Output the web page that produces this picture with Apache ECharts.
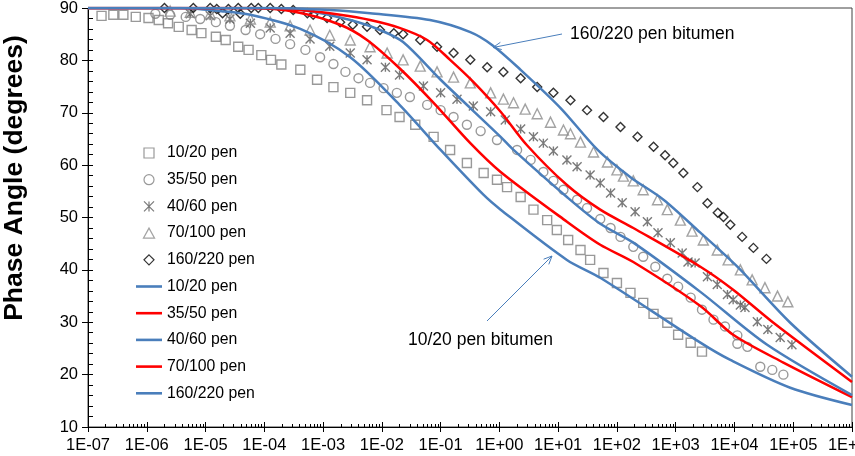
<!DOCTYPE html>
<html>
<head>
<meta charset="utf-8">
<title>Phase angle master curves</title>
<script src="https://cdn.jsdelivr.net/npm/echarts@6.0.0/dist/echarts.min.js"></script>
<style>
  html, body { margin: 0; padding: 0; background: #fff; }
  #chart { width: 855px; height: 456px; }
</style>
</head>
<body>
<div id="chart"></div>
<script>
// reduced frequency (Hz) and phase angle (degrees)

// measured points
var pen1020Freq = [1.7e-7, 2.7e-7, 4.0e-7, 6.5e-7, 1.07e-6, 1.6e-6, 2.3e-6, 3.5e-6, 5.8e-6, 8.5e-6, 1.5e-5, 2.2e-5, 3.6e-5, 5.4e-5, 8.9e-5, 1.3e-4, 1.95e-4, 4.1e-4, 7.9e-4, 1.5e-3, 2.9e-3, 5.6e-3, 1.2e-2, 2.0e-2, 3.7e-2, 7.6e-2, 0.145, 0.28, 0.54, 0.91, 1.35, 2.3, 3.8, 6.5, 9.5, 14.8, 24, 35, 59, 100, 170, 280, 420, 720, 1100, 1800, 2800];
var pen1020Phase = [88.5, 88.7, 88.7, 88.3, 88.1, 87.7, 87.1, 86.4, 85.8, 85.2, 84.5, 83.9, 82.6, 82.0, 81.0, 80.1, 79.2, 78.2, 76.3, 74.9, 73.8, 72.4, 70.5, 69.2, 67.7, 65.4, 62.9, 60.4, 58.5, 57.2, 55.8, 53.9, 51.5, 49.5, 47.6, 45.7, 43.8, 41.9, 39.4, 37.5, 35.6, 33.7, 31.6, 29.9, 27.6, 26.1, 24.4];

var pen3550Freq = [1.4e-6, 2.5e-6, 4.6e-6, 8.1e-6, 1.5e-5, 2.6e-5, 4.8e-5, 8.5e-5, 1.55e-4, 2.75e-4, 5.0e-4, 8.9e-4, 1.5e-3, 2.4e-3, 4.0e-3, 6.3e-3, 1.07e-2, 1.8e-2, 3.0e-2, 5.9e-2, 0.1, 0.166, 0.28, 0.48, 0.91, 2.0, 3.4, 5.6, 8.3, 12.3, 21, 31, 52, 78, 115, 190, 280, 450, 720, 1100, 1800, 2800, 4400, 6900, 11200, 11200, 16600, 27500, 44000, 68000];
var pen3550Phase = [88.9, 88.7, 88.3, 87.9, 87.3, 86.6, 85.8, 85.0, 84.1, 83.1, 82.0, 80.6, 79.3, 77.8, 76.6, 75.7, 74.7, 73.8, 73.0, 71.5, 70.5, 69.2, 67.7, 66.5, 64.8, 62.9, 61.0, 58.7, 57.0, 55.3, 53.4, 51.8, 49.7, 48.0, 46.3, 44.4, 42.5, 40.6, 38.3, 36.8, 34.7, 32.4, 30.5, 29.2, 27.5, 25.9, 25.3, 21.5, 20.9, 20.0];

var pen4060Freq = [5.5e-6, 1.2e-5, 2.6e-5, 5.8e-5, 1.26e-4, 2.75e-4, 6.0e-4, 1.3e-3, 2.9e-3, 5.6e-3, 1.15e-2, 2.0e-2, 5.1e-2, 0.1, 0.19, 0.36, 0.71, 1.26, 2.3, 3.8, 5.6, 8.3, 14.1, 21, 35, 52, 78, 123, 204, 330, 500, 810, 1290, 1620, 2140, 3470, 5100, 7600, 9500, 12600, 15100, 24500, 37000, 60000, 95000];
var pen4060Phase = [88.9, 88.5, 87.9, 87.1, 86.2, 85.2, 84.1, 82.7, 81.4, 80.1, 78.7, 77.2, 75.1, 73.8, 72.6, 71.3, 70.2, 68.6, 66.9, 65.4, 64.2, 62.7, 61.0, 59.7, 58.1, 56.6, 54.7, 52.8, 51.1, 49.2, 47.1, 45.2, 43.2, 41.5, 41.3, 38.7, 37.2, 35.3, 34.3, 33.3, 32.8, 30.1, 28.6, 27.1, 25.7];

var pen70100Freq = [2.5e-6, 5.5e-6, 1.2e-5, 2.6e-5, 5.8e-5, 1.26e-4, 2.75e-4, 6.0e-4, 1.3e-3, 2.9e-3, 6.3e-3, 1.23e-2, 2.3e-2, 4.5e-2, 8.7e-2, 0.166, 0.32, 0.71, 1.17, 1.74, 2.75, 4.4, 7.4, 12.3, 16.2, 24, 40, 69, 100, 129, 190, 280, 490, 720, 1200, 1900, 2950, 5100, 7800, 12600, 20000, 33000, 54000, 81000];
var pen70100Phase = [89.4, 89.2, 88.9, 88.5, 87.9, 87.3, 86.6, 85.8, 84.8, 83.9, 82.6, 81.4, 80.1, 78.9, 77.8, 76.8, 75.7, 73.8, 72.6, 71.9, 70.7, 69.8, 68.2, 66.7, 66.0, 64.4, 62.5, 60.6, 59.1, 57.9, 57.0, 55.3, 53.4, 51.5, 49.5, 47.4, 45.7, 43.8, 41.9, 40.0, 38.1, 36.6, 35.0, 33.9];

var pen160220Freq = [2.0e-6, 6.2e-6, 1.2e-5, 1.55e-5, 1.95e-5, 2.45e-5, 3.6e-5, 3.9e-5, 6.0e-5, 7.9e-5, 1.26e-4, 1.95e-4, 3.1e-4, 5.4e-4, 6.8e-4, 1.17e-3, 1.95e-3, 3.2e-3, 5.6e-3, 9.3e-3, 1.6e-2, 2.3e-2, 4.5e-2, 8.7e-2, 0.166, 0.32, 0.62, 1.17, 2.3, 4.4, 8.3, 16.2, 31, 59, 115, 224, 420, 660, 910, 1350, 2340, 3470, 5200, 6500, 8500, 13500, 21000, 35000];
var pen160220Phase = [90, 90, 90, 89.8, 89.0, 89.8, 90, 88.9, 90, 90, 90, 89.8, 89.6, 89.0, 88.7, 88.1, 87.3, 86.8, 86.4, 85.8, 85.2, 85.0, 83.9, 82.6, 81.4, 80.1, 78.7, 77.8, 76.6, 74.9, 73.8, 72.4, 70.5, 69.2, 67.3, 65.4, 63.5, 61.9, 60.4, 58.5, 55.8, 52.7, 50.9, 50.1, 48.6, 46.3, 44.2, 42.1];

// model curves
var fit1020Freq = [1e-7, 3.7e-6, 1.86e-5, 5.8e-5, 4.1e-4, 2.9e-3, 2.0e-2, 0.1, 0.54, 1.05, 14.1, 52, 2630, 8500, 89000, 1e6];
var fit1020Phase = [90, 90, 89.4, 88.7, 86.0, 80.6, 71.5, 62.9, 54.3, 51.5, 41.9, 38.5, 26.1, 22.8, 17.5, 14.2];

var fit3550Freq = [1e-7, 5.8e-5, 3.6e-4, 1.95e-3, 5.6e-3, 2.0e-2, 7.6e-2, 0.32, 1.05, 14.1, 52, 190, 2630, 9500, 68000, 1e6];
var fit3550Phase = [90, 90, 89.2, 86.8, 83.9, 78.5, 71.9, 64.2, 58.7, 49.2, 44.8, 41.5, 33.1, 27.6, 22.3, 15.7];

var fit4060Freq = [1e-7, 1.26e-4, 6.0e-4, 2.9e-3, 9.3e-3, 2.3e-2, 0.1, 0.32, 1.05, 1.74, 14.1, 52, 190, 2630, 36000, 1e6];
var fit4060Phase = [90, 90, 89.4, 87.7, 85.8, 83.5, 76.3, 70.9, 65.4, 62.9, 53.9, 48.8, 45.2, 35.8, 25.7, 16.1];

var fit70100Freq = [1e-7, 5.8e-5, 4.1e-4, 1.95e-3, 6.3e-3, 2.0e-2, 5.9e-2, 0.145, 0.36, 1.05, 2.95, 14.1, 52, 190, 2630, 9500, 46000, 1e6];
var fit70100Phase = [90, 90, 89.6, 88.7, 87.7, 86.2, 83.9, 80.1, 75.9, 70.2, 63.8, 56.2, 51.5, 48.0, 40.6, 36.2, 29.9, 18.6];

var fit160220Freq = [1e-7, 1.26e-4, 1.3e-3, 6.3e-3, 6.6e-2, 0.32, 0.76, 2.3, 11, 47, 170, 620, 2630, 11200, 89000, 1e6];
var fit160220Phase = [90, 90, 89.6, 89.0, 87.7, 85.4, 82.9, 78.2, 70.9, 62.9, 57.7, 53.4, 47.1, 40.6, 29.9, 19.6];

// axis ticks
var decades = [1e-7, 1e-6, 1e-5, 1e-4, 1e-3, 1e-2, 1e-1, 1, 10, 100, 1e3, 1e4, 1e5, 1e6];
var minorTicks = [];
decades.slice(0, -1).forEach(function (d) {
    for (var m = 2; m <= 9; m++) minorTicks.push(m * d);
});

var FONT = '"Liberation Sans", Arial, sans-serif';
var BLUE = '#4a7ebb';
var RED = '#ff0000';

function pairs(xs, ys) {
    return xs.map(function (x, i) { return [x, ys[i]]; });
}

// 1E-07 style labels
function sci(v) {
    var e = Math.round(Math.log10(v));
    var a = Math.abs(e);
    return '1E' + (e < 0 ? '-' : '+') + (a < 10 ? '0' : '') + a;
}

function measured(name, xs, ys, symbol, size, color) {
    return {
        name: name, type: 'scatter', data: pairs(xs, ys),
        symbol: symbol, symbolSize: size, clip: false,
        itemStyle: { color: 'transparent', borderColor: color, borderWidth: 1.4 },
        emphasis: { disabled: true }, z: 2
    };
}

function model(name, xs, ys, color) {
    return {
        name: name, type: 'line', data: pairs(xs, ys),
        symbol: 'none', smooth: 0.3,
        lineStyle: { color: color, width: 2.5 }, itemStyle: { color: color },
        emphasis: { disabled: true }, z: 3
    };
}

function arrow(x1, y1, x2, y2) {
    var a = Math.atan2(y1 - y2, x1 - x2), L = 9, w = 0.42;
    var st = { stroke: BLUE, lineWidth: 1, fill: null };
    return [
        { type: 'line', shape: { x1: x1, y1: y1, x2: x2, y2: y2 }, style: st },
        { type: 'polyline', shape: { points: [
            [x2 + L * Math.cos(a + w), y2 + L * Math.sin(a + w)],
            [x2, y2],
            [x2 + L * Math.cos(a - w), y2 + L * Math.sin(a - w)]
        ] }, style: st }
    ];
}

var STAR = 'path://M0,0L10,10M0,10L10,0M5,0L5,10';
var SQUARE = 'path://M0,0H10V10H0Z';
var TRI = 'path://M5,0L10,9L0,9Z';
var DIAMOND = 'path://M5,0L10,5L5,10L0,5Z';
var DASH = 'path://M0,0H10V1H0Z';

var xBase = { type: 'log', logBase: 10, min: 1e-7, max: 1e6, position: 'bottom', splitLine: { show: false } };
var yBase = { type: 'value', min: 10, max: 90, interval: 10, position: 'left', splitLine: { show: false } };

var myChart = echarts.init(document.getElementById('chart'));
var option = {
    animation: false,
    textStyle: { fontFamily: FONT },
    grid: { left: 88, right: 3, top: 8, bottom: 29, show: true, borderColor: '#404040', borderWidth: 1, outerBoundsMode: 'none' },
    xAxis: [
        Object.assign({}, xBase, {
            axisLine: { onZero: false, lineStyle: { color: '#000', width: 1 } },
            axisTick: { inside: false, length: 5, customValues: decades, lineStyle: { color: '#000' } },
            axisLabel: { customValues: decades, formatter: sci, color: '#000', fontSize: 16.5, fontFamily: FONT, margin: 10 }
        }),
        Object.assign({}, xBase, {
            axisLine: { show: false, onZero: false },
            axisTick: { inside: true, length: 5, customValues: decades, lineStyle: { color: '#000' } },
            axisLabel: { show: false }
        }),
        Object.assign({}, xBase, {
            axisLine: { show: false, onZero: false },
            axisTick: { inside: true, length: 3, customValues: minorTicks, lineStyle: { color: '#000' } },
            axisLabel: { show: false }
        })
    ],
    yAxis: [
        Object.assign({}, yBase, {
            axisLine: { show: true, onZero: false, lineStyle: { color: '#000', width: 1 } },
            axisTick: { show: true, inside: false, length: 6, lineStyle: { color: '#000' } },
            axisLabel: { color: '#000', fontSize: 16.5, fontFamily: FONT, margin: 10 }
        }),
        Object.assign({}, yBase, {
            axisLine: { show: false, onZero: false },
            axisTick: { show: true, inside: true, length: 5, lineStyle: { color: '#000' } },
            minorTick: { show: true, splitNumber: 5, length: 5, lineStyle: { color: '#000' } },
            axisLabel: { show: false }
        })
    ],
    legend: {
        orient: 'vertical', left: 136, top: 145, padding: 0,
        itemWidth: 26, itemHeight: 10, itemGap: 10.7,
        selectedMode: false,
        itemStyle: { borderWidth: 1.2 },
        textStyle: { fontSize: 15.8, color: '#000', fontFamily: FONT, lineHeight: 16 },
        formatter: function (n) { return n.replace(' model', ''); },
        data: [
            { name: '10/20 pen', icon: SQUARE },
            { name: '35/50 pen', icon: 'circle' },
            { name: '40/60 pen', icon: STAR },
            { name: '70/100 pen', icon: TRI },
            { name: '160/220 pen', icon: DIAMOND },
            { name: '10/20 pen model', icon: DASH },
            { name: '35/50 pen model', icon: DASH },
            { name: '40/60 pen model', icon: DASH },
            { name: '70/100 pen model', icon: DASH },
            { name: '160/220 pen model', icon: DASH }
        ]
    },
    series: [
        measured('10/20 pen', pen1020Freq, pen1020Phase, 'rect', 9, '#7f7f7f'),
        measured('35/50 pen', pen3550Freq, pen3550Phase, 'circle', 9, '#808080'),
        measured('40/60 pen', pen4060Freq, pen4060Phase, STAR, 9, '#595959'),
        measured('70/100 pen', pen70100Freq, pen70100Phase, 'triangle', 10, '#8c8c8c'),
        measured('160/220 pen', pen160220Freq, pen160220Phase, 'diamond', 9, '#000000'),
        model('10/20 pen model', fit1020Freq, fit1020Phase, BLUE),
        model('35/50 pen model', fit3550Freq, fit3550Phase, RED),
        model('40/60 pen model', fit4060Freq, fit4060Phase, BLUE),
        model('70/100 pen model', fit70100Freq, fit70100Phase, RED),
        model('160/220 pen model', fit160220Freq, fit160220Phase, BLUE)
    ],
    graphic: [
        { type: 'text', x: 15, y: 178, rotation: Math.PI / 2,
          style: { text: 'Phase Angle (degrees)', font: 'bold 26.5px ' + FONT, fill: '#000', align: 'center', verticalAlign: 'middle' } },
        { type: 'text', x: 570, y: 34,
          style: { text: '160/220 pen bitumen', font: '17.5px ' + FONT, fill: '#000', align: 'left', verticalAlign: 'middle' } },
        { type: 'text', x: 408, y: 340,
          style: { text: '10/20 pen bitumen', font: '17.5px ' + FONT, fill: '#000', align: 'left', verticalAlign: 'middle' } }
    ].concat(arrow(562, 34, 493, 47.5), arrow(487, 321, 552, 256))
};

myChart.setOption(option);
window.addEventListener('resize', function () {
    myChart.resize();
});
</script>
</body>
</html>
